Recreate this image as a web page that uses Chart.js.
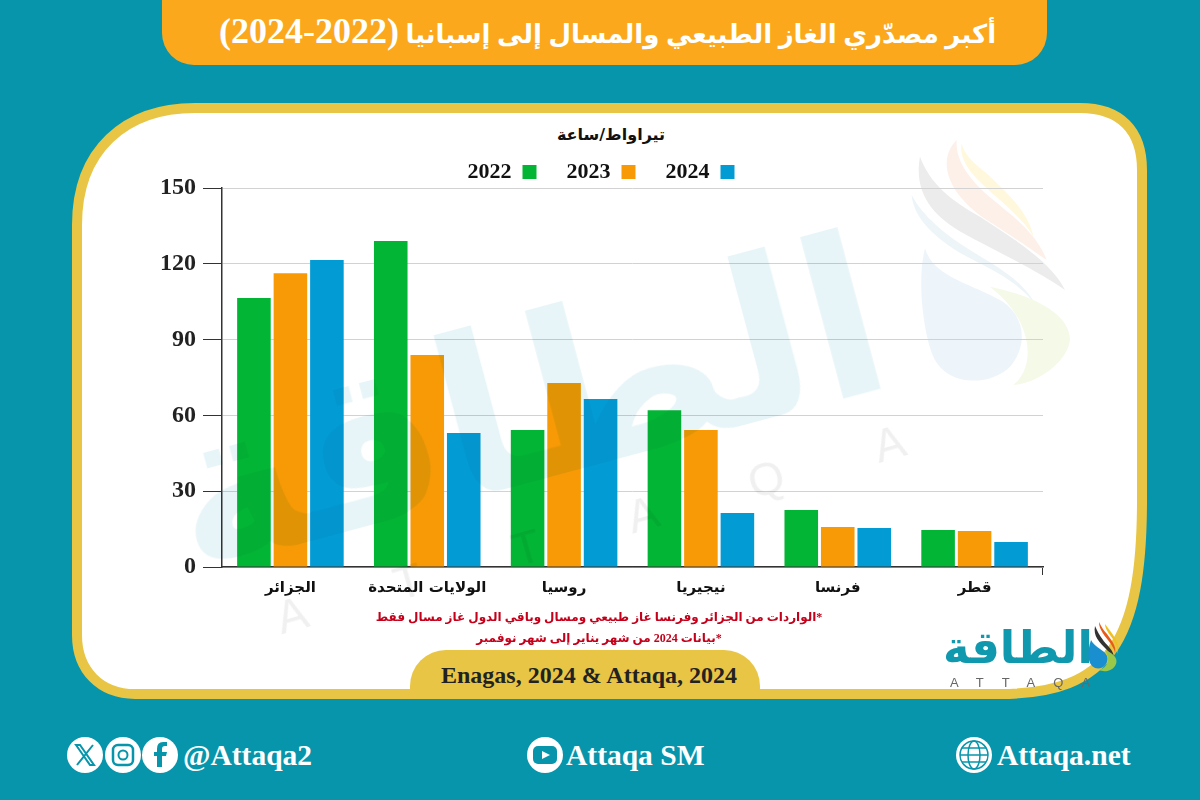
<!DOCTYPE html>
<html lang="ar">
<head>
<meta charset="utf-8">
<title>أكبر مصدّري الغاز الطبيعي والمسال إلى إسبانيا</title>
<script src="https://cdn.jsdelivr.net/npm/chart.js@4"></script>
<style>
  html, body { margin: 0; padding: 0; }
  body { width: 1200px; height: 800px; position: relative; overflow: hidden; background: #0795ab; font-family: "Liberation Serif", "DejaVu Sans", serif; }
  div, svg, canvas { position: absolute; }
  #banner { left: 162px; top: -30px; width: 885px; height: 95px; background: #fca81c; border-radius: 32px; }
  #title { left: 165px; top: 8px; width: 885px; text-align: center; color: #fff; font-weight: bold; font-size: 26px; line-height: 46px; direction: rtl; white-space: nowrap; }
  #title span { font-size: 36px; }
  #unit { left: 511px; width: 200px; top: 125px; text-align: center; font: bold 16px "DejaVu Sans"; color: #111; direction: rtl; }
  #chart { left: 159px; top: 131px; }
  .note { left: 299px; width: 600px; text-align: center; color: #c4001a; font-weight: bold; font-size: 12px; direction: rtl; white-space: nowrap; }
  #source { left: 410px; top: 650px; width: 350px; height: 49px; background: #e8c545; border-radius: 36px 36px 0 0; }
  #sourceText { left: 414px; top: 662px; width: 350px; text-align: center; font-size: 24px; font-weight: bold; color: #222; white-space: nowrap; }
  #wm { left: 125px; top: 275px; width: 800px; height: 260px; text-align: center; font: bold 220px/260px "DejaVu Sans"; color: #e8f5f8; transform: rotate(-15deg); mix-blend-mode: multiply; white-space: nowrap; direction: rtl; }
  #wm2 { left: 270px; top: 594px; font: 46px/52px "Liberation Sans"; color: #f0f0f0; letter-spacing: 95px; transform-origin: 0 0; transform: rotate(-16deg); mix-blend-mode: multiply; white-space: nowrap; }
  #logo { left: 938px; top: 621px; width: 160px; text-align: center; font: bold 45px "DejaVu Sans"; color: #1098ae; direction: rtl; white-space: nowrap; }
  #logoEn { left: 950px; top: 675px; font: 13px "Liberation Sans"; color: #666; letter-spacing: 18px; white-space: nowrap; }
  .social { top: 739px; color: #fff; font-size: 29.5px; font-weight: bold; white-space: nowrap; }
</style>
</head>
<body>
<div id="banner"></div>
<div id="title">أكبر مصدّري الغاز الطبيعي والمسال إلى إسبانيا <span>(2022-2024)</span></div>
<svg style="left:0;top:0" width="1200" height="800">
  <path d="M195 108 H1080 C1120 108 1142 130 1142 170 V500 C1142 640 1110 694 1000 694 H135 C100 694 77 670 77 635 V225 C77 150 125 108 195 108Z" fill="#fff" stroke="#e8c545" stroke-width="10"/>
</svg>
<svg style="left:890px;top:120px" width="200" height="280" viewBox="0 0 600 840">
  <path d="M200 60 C140 120 170 220 290 300 C370 350 440 400 470 420 C440 340 370 290 310 240 C250 190 195 130 200 60Z" fill="#fdf0e8"/>
  <path d="M215 70 C205 130 260 180 330 240 C380 285 415 320 430 350 C415 270 340 210 290 160 C250 130 220 100 215 70Z" fill="#fff8dc"/>
  <path d="M90 110 C70 220 130 290 220 340 C320 395 440 450 525 510 C480 420 360 350 270 290 C180 240 120 190 90 110Z" fill="#ececec"/>
  <path d="M65 225 C70 300 150 370 250 420 C330 460 400 500 440 560 C400 480 320 440 240 390 C160 340 100 290 65 225Z" fill="#edf5f9"/>
  <path d="M300 500 C400 520 540 570 540 660 C530 730 440 790 370 795 C440 740 430 600 300 500Z" fill="#f5f9e8"/>
  <path d="M105 385 C80 480 100 640 130 710 C170 800 300 800 360 740 C420 670 400 580 330 540 C240 490 130 470 105 385Z" fill="#edf5fa"/>
</svg>
<div id="unit">تيراواط/ساعة</div>
<canvas id="chart" width="886" height="474" style="width:886px;height:474px"></canvas>
<div id="wm">الطاقة</div>
<div id="wm2">ATTAQA</div>
<div class="note" style="top:610px">*الواردات من الجزائر وفرنسا غاز طبيعي ومسال وباقي الدول غاز مسال فقط</div>
<div class="note" style="top:631px">*بيانات 2024 من شهر يناير إلى شهر نوفمبر</div>
<div id="source"></div>
<div id="sourceText">Enagas, 2024 &amp; Attaqa, 2024</div>
<div id="logo">الطاقة</div>
<div id="logoEn">ATTAQA</div>
<svg style="left:1085px;top:618px" width="36" height="60" viewBox="0 0 36 60">
  <path d="M20 6 C20 12 26 18 30 24 C32 28 33 32 32 36 C36 28 30 20 26 14Z" fill="#f0c020"/>
  <path d="M14 4 C14 12 20 18 26 26 C28 30 30 32 30 36 C32 28 26 22 22 16 C18 12 16 8 14 4Z" fill="#e85a1a"/>
  <path d="M10 8 C8 18 14 24 22 32 C26 36 28 40 28 44 C32 34 22 28 18 22 C14 17 12 12 10 8Z" fill="#333"/>
  <path d="M20 32 C30 36 34 42 30 48 C26 54 18 54 14 52 C22 50 26 42 20 32Z" fill="#9cc84a"/>
  <path d="M6 22 C2 34 2 46 10 50 C18 52 24 46 22 38 C20 32 10 30 6 22Z" fill="#1a8fd0"/>
</svg>
<svg style="left:66px;top:736px" width="115" height="38" viewBox="0 0 115 38" fill="#fff">
  <circle cx="19" cy="19" r="18"/><circle cx="57" cy="19" r="18"/><circle cx="94" cy="19" r="18"/>
  <path d="M10 9 L24 29 H28 L14 9Z M27 9 L11 29" stroke="#0795ab" stroke-width="2" fill="none"/>
  <rect x="47" y="9" width="20" height="20" rx="5" fill="none" stroke="#0795ab" stroke-width="2.5"/>
  <circle cx="57" cy="19" r="4.5" fill="none" stroke="#0795ab" stroke-width="2"/>
  <path d="M96 31 V20 H100 L101 16 H96 V13 Q96 10 99 10 H101 V6 H97 Q91 6 91 13 V16 H88 V20 H91 V31Z" fill="#0795ab"/>
</svg>
<div class="social" style="left:183px">@Attaqa2</div>
<svg style="left:526px;top:736px" width="38" height="38" viewBox="0 0 38 38">
  <circle cx="19" cy="19" r="18" fill="#fff"/>
  <rect x="7" y="10" width="24" height="18" rx="5" fill="#0795ab"/>
  <path d="M16 15 L24 19 L16 23Z" fill="#fff"/>
</svg>
<div class="social" style="left:566px">Attaqa SM</div>
<svg style="left:955px;top:736px" width="38" height="38" viewBox="0 0 38 38" fill="none" stroke="#0795ab" stroke-width="1.5">
  <circle cx="19" cy="19" r="18" fill="#fff" stroke="none"/>
  <circle cx="19" cy="19" r="14"/><ellipse cx="19" cy="19" rx="6" ry="14"/>
  <path d="M5 19 H33 M7 12 H31 M7 26 H31"/>
</svg>
<div class="social" style="left:997px">Attaqa.net</div>

<script>
// Data
const countries = ['الجزائر', 'الولايات المتحدة', 'روسيا', 'نيجيريا', 'فرنسا', 'قطر'];
const values2022 = [106.5, 129, 54.2, 62, 22.6, 14.6];
const values2023 = [116.3, 83.9, 72.8, 54.2, 15.8, 14.2];
const values2024 = [121.5, 53, 66.5, 21.4, 15.4, 9.9];

const serifBold = size => ({ family: '"Liberation Serif"', size: size, weight: 'bold' });

// Legend has wide item gaps, so its height is cut back after the fit
const legendHeight = {
  id: 'legendHeight',
  beforeUpdate(chart) {
    if (chart.legend.fitPatched) return;
    const fit = chart.legend.fit;
    chart.legend.fit = function () {
      fit.call(this);
      this.height = 57;
    };
    chart.legend.fitPatched = true;
  }
};

const ctx = document.getElementById('chart').getContext('2d');
new Chart(ctx, {
  type: 'bar',
  plugins: [legendHeight],
  data: {
    labels: countries,
    datasets: [
      { label: '2022', data: values2022, backgroundColor: '#02b534' },
      { label: '2023', data: values2023, backgroundColor: '#f79a05' },
      { label: '2024', data: values2024, backgroundColor: '#029bd4' }
    ]
  },
  options: {
    responsive: false,
    animation: false,
    layout: { padding: { right: 2 } },
    datasets: { bar: { categoryPercentage: 0.8, barPercentage: 0.92 } },
    plugins: {
      title: { display: false },
      tooltip: { enabled: false },
      legend: {
        position: 'top',
        rtl: true,
        reverse: true,
        labels: { boxWidth: 14, boxHeight: 14, padding: 30, color: '#111', font: serifBold(22) }
      }
    },
    scales: {
      x: {
        afterFit(scale) { scale.height = 38; },
        border: { color: '#333', width: 1.5 },
        grid: {
          drawOnChartArea: false,
          tickLength: 8,
          tickColor: c => (c.type === 'scale' ? '#333' : 'transparent')
        },
        ticks: { color: '#111', padding: 4, maxRotation: 0, font: { family: '"DejaVu Sans"', size: 15, weight: 'bold' } }
      },
      y: {
        min: 0,
        max: 150,
        afterFit(scale) { scale.width = 63; },
        border: { color: '#333', width: 1.5 },
        grid: { color: '#d2d2d2', tickLength: 19, tickColor: '#333' },
        ticks: { stepSize: 30, color: '#222', padding: 7, font: serifBold(24) }
      }
    }
  }
});
</script>
</body>
</html>
